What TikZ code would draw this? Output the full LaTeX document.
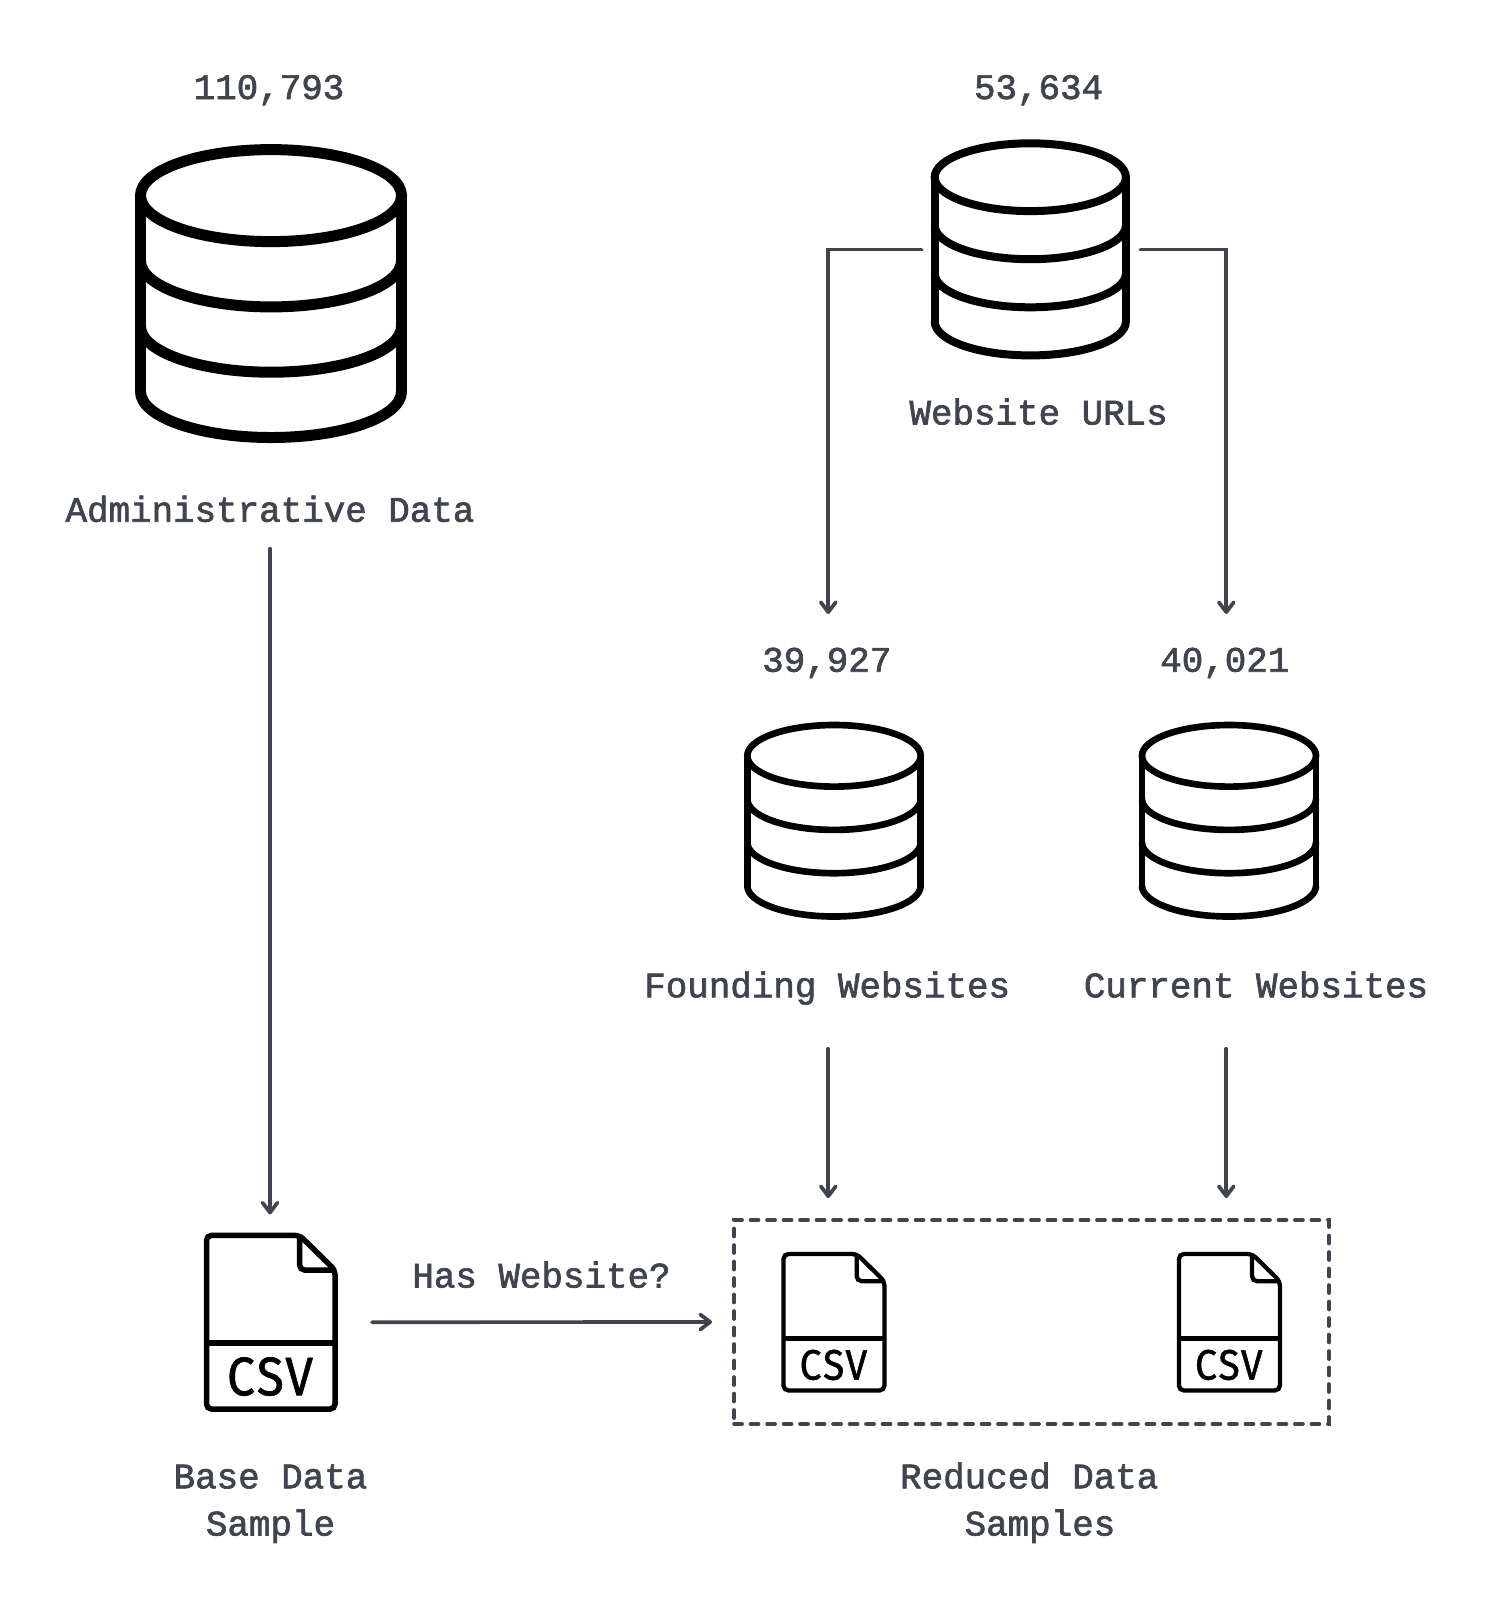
\documentclass[tikz,border=0pt]{standalone}
\usepackage{fontspec}
\usetikzlibrary{arrows.meta}
\newfontfamily\labelfont[FakeBold=1.8]{Liberation Mono}
\newfontfamily\iconfont[FakeBold=1.2,LetterSpace=5]{Fira Sans}
\definecolor{slate}{HTML}{3F444F}
\tikzset{
  lbl/.style={anchor=base,inner xsep=0pt,outer sep=0pt,text=slate,text height=.52cm,text depth=.16cm,font=\labelfont\fontsize{20.41pt}{26.6pt}\selectfont},
  flow/.style={draw=slate,line width=2.1pt,line cap=round,-{Straight Barb[length=.2cm,width=.3cm,round]}},
  blank/.style={inner sep=0pt,outer sep=0pt},
  % rx, ry, distance between the bands
  pics/dbicon/.style n args={3}{code={
    \draw (0,0) ellipse (#1 and #2);
    \draw (-#1,0)--(-#1,3*#3); \draw (#1,0)--(#1,3*#3);
    \foreach \b in {1,2,3} \draw (-#1,\b*#3) arc (180:0:#1 and #2);
  }},
  pics/csvicon/.style={code={
    \draw[rounded corners=.1cm] (-64.25,-86.85)--(28.85,-86.85)--(64.25,-52.15)--(64.25,86.85)--(-64.25,86.85)--cycle;
    \draw[rounded corners=.1cm] (28.85,-86.85)--(28.85,-52.15)--(64.25,-52.15);
    \draw (-64.25,20.55)--(64.25,20.55);
    \node[blank,transform shape,text=black] (-csv) at (-.75,54.35) {\resizebox{1.72cm}{.76cm}{\iconfont CSV}};
  }}
}
\begin{document}
\begin{tikzpicture}[x=.02cm,y=-.02cm]
  \path[use as bounding box,fill=white] (0,0) rectangle (1495,1614);
  % cylinders
  \pic[line width=.22cm] at (271,195.6) {dbicon={130.5}{46}{65.3}};
  \pic[line width=.16cm] at (1030.3,177.2) {dbicon={95.6}{33.9}{48.1}};
  \pic[line width=.133cm] at (834,755.8) {dbicon={86.7}{30.8}{43.3}};
  \pic[line width=.133cm] at (1229,755.8) {dbicon={87}{30.8}{43.3}};
  \node[blank,minimum width=4.38cm] (dbURL) at (1031,249.6) {};
  % files
  \pic[line width=.11cm] at (270.75,1322.2) {csvicon};
  \pic[line width=.086cm,scale=.786] at (834,1322.2) {csvicon};
  \pic[line width=.086cm,scale=.786] at (1229.4,1322.2) {csvicon};
  \node[blank,minimum width=4.08cm,minimum height=4.31cm] (fileBase) at (270,1322.2) {};
  \node[draw=slate,line width=2.1pt,line cap=round,dash pattern=on .16cm off .17cm,inner sep=0pt,outer sep=.44cm,minimum width=11.9cm,minimum height=4.08cm] (boxReduced) at (1031.5,1322) {};
  % labels
  \node[lbl] (cntAdmin) at (269,99) {110,793};
  \node[lbl] (cntURL) at (1038.6,99) {53,634};
  \node[lbl,inner ysep=.634cm] (cntFound) at (828.3,671.7) {39,927\kern.06cm};
  \node[lbl,inner ysep=.634cm] (cntCurrent) at (1226.3,671.7) {40,021\kern.06cm};
  \node[lbl,inner ysep=.38cm] (lblAdmin) at (270,521.7) {Administrative Data};
  \node[lbl] (lblURL) at (1038.6,424.5) {Website URLs};
  \node[lbl,inner ysep=.87cm] (lblFound) at (827.2,997.3) {Founding Websites};
  \node[lbl,inner ysep=.87cm] (lblCurrent) at (1256,997.3) {Current Websites};
  \node[lbl] (lblHas) at (541.5,1287.5) {Has Website?};
  \node[lbl] (lblBase) at (270.5,1488.3) {Base Data};
  \node[lbl] (lblBaseB) at (270.5,1535.5) {Sample};
  \node[lbl] (lblReduced) at (1040,1488.3) {Reduced Data\phantom{x}};
  \node[lbl] (lblReducedB) at (1040,1535.5) {Samples};
  % arrows
  \draw[flow] (lblAdmin.south)--(fileBase.north);
  \draw[flow] (dbURL.west)-|(cntFound.north);
  \draw[flow] (dbURL.east)-|(cntCurrent.north);
  \draw[flow] (cntFound.south |- lblFound.south)--(cntFound.south |- boxReduced.north);
  \draw[flow] (cntCurrent.south |- lblCurrent.south)--(cntCurrent.south |- boxReduced.north);
  \draw[flow] (fileBase.east)--(boxReduced.west);
\end{tikzpicture}
\end{document}
